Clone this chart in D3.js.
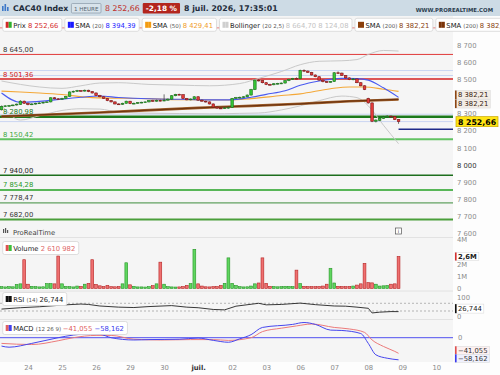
<!DOCTYPE html>
<meta charset="utf-8">
<style>
body { margin: 0; background: #fff; }
svg { display: block; font-family: "DejaVu Sans", "Noto Sans", sans-serif; }
.axis path, .axis line { display: none; }
.axis text { fill: #8c8c8c; font-size: 6.8px; font-family: "DejaVu Sans", sans-serif; }
</style>
<svg width="500" height="375"></svg>
<script src="https://cdn.jsdelivr.net/npm/d3@7"></script>
<script>
// hourly candles, 23 juin 11h -> 8 juil 17h
var opens = [8322,8342,8345,8347,8350,8353,8372,
  8360,8352,8356,8360,8362,8366,8368,8392,8386,
  8384,8388,8400,8426,8430,8434,8431,8436,8428,
  8420,8405,8398,8388,8375,8368,8356,8354,8360,
  8372,8358,8360,8364,8366,8368,8376,8372,8377,
  8374,8378,8384,8404,8412,8410,8388,8380,8385,
  8398,8378,8372,8368,8356,8338,8332,8330,8333,
  8336,8388,8393,8395,8398,8408,8440,8495,8492,
  8480,8470,8468,8474,8476,8478,8492,8500,8505,
  8503,8552,8548,8540,8525,8515,8495,8486,8484,
  8487,8538,8536,8522,8508,8498,8502,8480,8462,
  8388,8362,8255,8260,8272,8280,8285,8282,8265];
var highs = [8346,8348,8350,8352,8358,8378,8376,
  8364,8360,8363,8366,8369,8371,8395,8396,8390,
  8392,8403,8429,8434,8438,8437,8440,8439,8431,
  8423,8409,8401,8391,8379,8371,8360,8363,8375,
  8374,8364,8367,8369,8371,8379,8380,8381,8381,
  8412,8388,8408,8415,8416,8412,8391,8388,8401,
  8400,8382,8375,8371,8359,8341,8336,8337,8340,
  8391,8397,8399,8401,8411,8444,8499,8500,8495,
  8483,8474,8478,8479,8481,8495,8503,8508,8511,
  8556,8558,8551,8543,8528,8518,8498,8490,8490,
  8542,8546,8539,8525,8511,8506,8505,8483,8465,
  8392,8365,8266,8276,8286,8290,8289,8285,8268];
var lows = [8318,8338,8341,8343,8346,8350,8356,
  8348,8349,8352,8356,8358,8362,8365,8383,8380,
  8381,8385,8398,8422,8427,8428,8428,8425,8417,
  8402,8395,8385,8372,8365,8353,8350,8351,8357,
  8355,8354,8357,8360,8362,8365,8369,8369,8371,
  8372,8375,8381,8401,8406,8385,8377,8377,8382,
  8375,8369,8364,8353,8335,8328,8326,8327,8329,
  8333,8385,8389,8391,8395,8405,8437,8487,8476,
  8466,8464,8465,8470,8472,8475,8489,8496,8500,
  8501,8543,8537,8522,8512,8492,8482,8480,8481,
  8485,8532,8519,8505,8495,8494,8477,8459,8437,
  8358,8250,8248,8256,8268,8276,8276,8262,8240];
var closes = [8342,8345,8347,8350,8355,8372,8360,
  8352,8356,8360,8362,8366,8368,8392,8386,8384,
  8388,8400,8426,8430,8434,8431,8436,8428,8420,
  8405,8398,8388,8375,8368,8356,8354,8360,8372,
  8358,8360,8364,8366,8368,8376,8372,8377,8374,
  8378,8384,8404,8412,8410,8388,8380,8385,8398,
  8378,8372,8368,8356,8338,8332,8330,8333,8336,
  8388,8393,8395,8398,8408,8440,8495,8492,8480,
  8470,8468,8474,8476,8478,8492,8500,8505,8503,
  8552,8548,8540,8525,8515,8495,8486,8484,8487,
  8538,8536,8522,8508,8498,8502,8480,8462,8440,
  8362,8255,8262,8272,8280,8285,8282,8265,8252.66];
// volume in thousands
var volumes = [150,130,150,140,330,380,2350,
  350,180,150,130,140,400,400,380,2650,
  380,170,150,130,200,170,350,420,2350,
  330,220,160,250,150,140,160,380,2100,
  300,180,130,130,120,150,230,380,2150,
  350,150,130,120,130,160,250,400,3200,
  380,200,140,130,150,160,250,420,2500,
  420,250,150,130,140,200,380,450,2500,
  420,180,160,140,150,180,170,160,1500,
  400,180,160,150,150,170,200,350,1650,
  450,180,160,150,170,200,280,380,2050,
  480,460,350,200,220,250,350,380,2610.982];

var dayLabels = ["24","25","26","29","30","juil.","02","03","06","07","08","09","10"];
var dayStarts = [7,16,25,34,43,52,61,70,79,88,97,106,115];

// indicators: [candle index, value]
var sma20 = [[0,8420],[5,8365],[10,8371],[16,8384],[21,8395],[26,8402],[31,8394],[39,8386],[47,8383],[55,8380],[60,8380],[66,8395],[70,8412],[75,8433],[79,8465],[84,8490],[90,8505],[94,8504],[97,8495],[101,8450],[105,8394.39]];
var sma50 = [[0,8431],[5,8426],[10,8420],[16,8411],[24,8393],[39,8387],[47,8381],[60,8379],[66,8387],[74,8405],[79,8415],[87,8445],[92,8455],[96,8455],[101,8442],[105,8429.41]];
var sma200 = [[0,8283],[26,8306],[52,8333],[66,8345],[79,8357],[92,8372],[105,8382.21]];
var bollUp = [[0,8490],[5,8470],[10,8455],[16,8447],[21,8462],[26,8478],[31,8480],[39,8470],[47,8466],[55,8462],[63,8475],[68,8505],[74,8545],[79,8585],[84,8605],[90,8608],[94,8615],[97,8645],[101,8668],[105,8664.70]];
var bollLow = [[0,8350],[5,8262],[10,8287],[16,8318],[21,8328],[26,8326],[31,8308],[39,8302],[47,8300],[55,8298],[63,8301],[68,8303],[74,8321],[79,8345],[84,8375],[90,8402],[94,8393],[97,8345],[101,8232],[105,8124.08]];
var rsi = [[0,40],[5,47],[10,52],[17,62],[21,66],[23,64],[26,56],[31,50],[35,48],[39,53],[45,58],[49,50],[52,47],[56,38],[59,36],[62,55],[66,65],[68,70],[70,62],[74,64],[79,71],[83,63],[88,56],[91,55],[94,50],[97,44],[98,20],[100,24],[103,27],[105,26.744]];
var macd = [[0,-22],[2,-25],[8,-15],[15,0],[19,7],[23,10],[26,9],[29,0],[35,-6],[39,-5],[47,-4],[52,-1],[56,-7],[60,-12],[63,-3],[66,8],[69,27],[77,35],[80,40],[83,35],[87,20],[90,19],[95,11],[97,-15],[99,-45],[102,-54],[105,-58.162]];
var signal = [[0,-15],[8,-18],[15,-8],[19,0],[25,6],[29,6],[35,-4],[42,-6],[50,-5],[56,-5],[60,-7],[66,0],[69,16],[74,25],[78,31],[82,36],[88,27],[92,23],[96,14],[98,-6],[101,-23],[104,-36],[105,-41.055]];

// horizontal levels
var levels = [8645, 8501.36, 8280.98, 8150.42, 7940, 7854.28, 7778.47, 7682];
var levelStyle = [
  {c: "#e03a3a", w: 1, t: "#333"},
  {c: "#d42020", w: 1.5, t: "#d42020"},
  {c: "#1c7a1c", w: 2.5, t: "#1c7a1c"},
  {c: "#62c262", w: 2, t: "#3fa83f"},
  {c: "#1d6e1d", w: 1.5, t: "#222"},
  {c: "#22a022", w: 1.5, t: "#2a9a2a"},
  {c: "#3c8c3c", w: 1, t: "#333"},
  {c: "#4a9e3a", w: 2, t: "#333"}
];
var lightLevels = [8551, 8522, 8296, 8253];
var topLevel = 8800;
var rayLevel = 8209;

var priceTicks = [8700,8600,8500,8400,8300,8200,8100,8000,7900,7800,7700,7600];
var volTicks = [0,1000,2000,4000];
var volTickLabels = ["0","1M","2M","4M"];

var fr = d3.formatLocale({decimal: ",", thousands: " ", grouping: [3], currency: ["", ""]});
var fmt2 = fr.format(",.2f"), fmt0 = fr.format(",.0f"), fmt3 = fr.format(",.3f");

var plotR = 453;
var svg = d3.select("svg");

var x = d3.scaleLinear().domain([-0.4, 119.4]).range([0, plotR]);
var yP = d3.scaleLinear().domain([7600, 8700]).range([233.5, 45]);
var yV = d3.scaleLinear().domain([0, 4000]).range([288.5, 239.5]);
var yR = d3.scaleLinear().domain([0, 100]).range([316.8, 297.5]);
var yM = d3.scaleLinear().domain([-60, 40]).range([360.5, 322.5]);

// backgrounds
svg.append("rect").attr("width", 500).attr("height", 375).attr("fill", "#fdfdfd");
svg.append("rect").attr("x", 0).attr("y", 16).attr("width", plotR).attr("height", 346).attr("fill", "#f5f5f5");
svg.append("rect").attr("width", 500).attr("height", 16).attr("fill", "#cddbe5");
[237.5, 291, 319.5].forEach(function(yy) {
  svg.append("line").attr("x1", 0).attr("x2", plotR).attr("y1", yy).attr("y2", yy)
    .attr("stroke", "#e2e2e2").attr("stroke-width", 1);
});

svg.append("clipPath").attr("id", "clipP")
  .append("rect").attr("x", 0).attr("y", 16).attr("width", plotR).attr("height", 222);
var gP = svg.append("g").attr("clip-path", "url(#clipP)");

// light levels
gP.selectAll(".light").data(lightLevels).enter().append("line")
  .attr("x1", 0).attr("x2", plotR)
  .attr("y1", function(d) { return yP(d); }).attr("y2", function(d) { return yP(d); })
  .attr("stroke", "#cad6f2").attr("stroke-width", 1);

svg.append("line").attr("x1", 0).attr("x2", plotR).attr("y1", yP(topLevel)).attr("y2", yP(topLevel))
  .attr("stroke", "#e88080").attr("stroke-width", 1);

gP.selectAll(".lvl").data(levels).enter().append("line")
  .attr("x1", 0).attr("x2", plotR)
  .attr("y1", function(d) { return yP(d); }).attr("y2", function(d) { return yP(d); })
  .attr("stroke", function(d, i) { return levelStyle[i].c; })
  .attr("stroke-width", function(d, i) { return levelStyle[i].w; });

gP.append("line").attr("x1", x(105)).attr("x2", plotR)
  .attr("y1", yP(rayLevel)).attr("y2", yP(rayLevel))
  .attr("stroke", "#1f2a8a").attr("stroke-width", 1.5);

// indicator lines
var lineP = d3.line().x(function(d) { return x(d[0]); }).y(function(d) { return yP(d[1]); }).curve(d3.curveMonotoneX);
gP.append("path").attr("d", lineP(bollUp)).attr("fill", "none").attr("stroke", "#c9c9c9").attr("stroke-width", 1);
gP.append("path").attr("d", lineP(bollLow)).attr("fill", "none").attr("stroke", "#c9c9c9").attr("stroke-width", 1);
gP.append("path").attr("d", lineP(sma200)).attr("fill", "none").attr("stroke", "#a0602a").attr("stroke-width", 2.6);
gP.append("path").attr("d", lineP(sma200)).attr("fill", "none").attr("stroke", "#6e3410").attr("stroke-width", 1.2);
gP.append("path").attr("d", lineP(sma50)).attr("fill", "none").attr("stroke", "#f4a838").attr("stroke-width", 1.1);
gP.append("path").attr("d", lineP(sma20)).attr("fill", "none").attr("stroke", "#4a5af0").attr("stroke-width", 1.1);

// candles
var candles = closes.map(function(c, i) {
  return {i: i, o: opens[i], h: highs[i], l: lows[i], c: c, v: volumes[i]};
});
var bw = 2.6;
var cg = gP.selectAll(".candle").data(candles).enter().append("g");
cg.append("line")
  .attr("x1", function(d) { return x(d.i); }).attr("x2", function(d) { return x(d.i); })
  .attr("y1", function(d) { return yP(d.h); }).attr("y2", function(d) { return yP(d.l); })
  .attr("stroke", "#333").attr("stroke-width", 0.7);
cg.append("rect")
  .attr("x", function(d) { return x(d.i) - bw / 2; })
  .attr("width", bw)
  .attr("y", function(d) { return yP(Math.max(d.o, d.c)); })
  .attr("height", function(d) { return Math.max(0.8, Math.abs(yP(d.o) - yP(d.c))); })
  .attr("fill", function(d) { return d.c >= d.o ? "#34c434" : "#e43a3a"; })
  .attr("stroke", function(d) { return d.c >= d.o ? "#1d6e1d" : "#7e1616"; })
  .attr("stroke-width", 0.6);

// level labels
svg.selectAll(".lvlTxt").data(levels).enter().append("text")
  .attr("x", 3).attr("y", function(d) { return yP(d) - 2.5; })
  .attr("fill", function(d, i) { return levelStyle[i].t; })
  .style("font-size", "6.8px")
  .text(function(d) { return fmt2(d); });

// volume
var vg = svg.append("g");
vg.selectAll("rect").data(candles).enter().append("rect")
  .attr("x", function(d) { return x(d.i) - 1.4; })
  .attr("width", 2.8)
  .attr("y", function(d) { return yV(d.v); })
  .attr("height", function(d) { return yV(0) - yV(d.v); })
  .attr("fill", function(d) { return d.c >= d.o ? "#5fd65f" : "#ef7070"; })
  .attr("stroke", function(d) { return d.c >= d.o ? "#279427" : "#b52424"; })
  .attr("stroke-width", 0.6);

// rsi
[70, 30].forEach(function(lv) {
  svg.append("line").attr("x1", 0).attr("x2", plotR).attr("y1", yR(lv)).attr("y2", yR(lv))
    .attr("stroke", "#9a9a9a").attr("stroke-width", 0.7).attr("stroke-dasharray", "2,2");
});
var lineR = d3.line().x(function(d) { return x(d[0]); }).y(function(d) { return yR(d[1]); });
svg.append("path").attr("d", lineR(rsi)).attr("fill", "none").attr("stroke", "#222").attr("stroke-width", 0.9);

// macd
svg.append("line").attr("x1", 0).attr("x2", plotR).attr("y1", yM(0)).attr("y2", yM(0))
  .attr("stroke", "#5050f0").attr("stroke-width", 1);
var lineM = d3.line().x(function(d) { return x(d[0]); }).y(function(d) { return yM(d[1]); }).curve(d3.curveMonotoneX);
svg.append("path").attr("d", lineM(signal)).attr("fill", "none").attr("stroke", "#ec7a7a").attr("stroke-width", 1);
svg.append("path").attr("d", lineM(macd)).attr("fill", "none").attr("stroke", "#4646ee").attr("stroke-width", 1);

// axes
var ax = svg.append("g").attr("class", "axis").attr("transform", "translate(" + plotR + ",0)")
  .call(d3.axisRight(yP).tickValues(priceTicks).tickSize(0).tickPadding(4).tickFormat(fmt0));
ax.selectAll("text").filter(function(d) { return d === 8000; }).style("fill", "#333");
svg.append("g").attr("class", "axis").attr("transform", "translate(" + plotR + ",0)")
  .call(d3.axisRight(yV).tickValues(volTicks).tickSize(0).tickPadding(4)
    .tickFormat(function(d, i) { return volTickLabels[i]; }));
svg.append("g").attr("class", "axis").attr("transform", "translate(" + plotR + ",0)")
  .call(d3.axisRight(yR).tickValues([0, 50, 100]).tickSize(0).tickPadding(4));
svg.append("g").attr("class", "axis").attr("transform", "translate(" + plotR + ",0)")
  .call(d3.axisRight(yM).tickValues([0]).tickSize(0).tickPadding(5));
var xa = svg.append("g").attr("class", "axis").attr("transform", "translate(0,362)")
  .call(d3.axisBottom(x).tickValues(dayStarts).tickSize(0).tickPadding(3)
    .tickFormat(function(d, i) { return dayLabels[i]; }));
xa.selectAll("text").filter(function(d, i) { return dayLabels[i] === "juil."; })
  .style("fill", "#333").style("font-weight", "bold");

// legend boxes
function legend(x0, y0, icon, parts) {
  var g = svg.append("g").attr("transform", "translate(" + x0 + "," + y0 + ")");
  var r = g.append("rect").attr("height", 13).attr("rx", 2)
    .attr("fill", "#fff").attr("stroke", "#d6d6d6").attr("stroke-width", 0.8);
  icon(g);
  var t = g.append("text").attr("x", 10.5).attr("y", 9.3).style("font-size", "6.8px");
  parts.forEach(function(p) {
    t.append("tspan").text(p[0]).attr("fill", p[1]).style("font-size", p[2] || null);
  });
  var w = t.node().getComputedTextLength() + 14;
  r.attr("width", w);
  return x0 + w + 3;
}
function sq(c1, c2) {
  return function(g) {
    g.append("rect").attr("x", 3).attr("y", 3.5).attr("width", 3).attr("height", 6).attr("fill", c1);
    g.append("rect").attr("x", 6).attr("y", 3.5).attr("width", 3).attr("height", 6).attr("fill", c2);
  };
}
var lx = 2.7;
lx = legend(lx, 18.3, sq("#d42a2a", "#2fb02f"), [["Prix ", "#222"], [fmt2(closes[closes.length - 1]), "#d42a2a"]]);
lx = legend(lx, 18.3, sq("#1a1aff", "#1a1aff"), [["SMA ", "#222"], ["(20) ", "#555", "5.5px"], [fmt2(sma20[sma20.length - 1][1]), "#2a2aff"]]);
lx = legend(lx, 18.3, sq("#f39c12", "#f39c12"), [["SMA ", "#222"], ["(50) ", "#555", "5.5px"], [fmt2(sma50[sma50.length - 1][1]), "#f0a030"]]);
lx = legend(lx, 18.3, sq("#cfcfcf", "#cfcfcf"), [["Bollinger ", "#222"], ["(20 2,5) ", "#555", "5.5px"], [fmt2(bollUp[bollUp.length - 1][1]) + "  " + fmt2(bollLow[bollLow.length - 1][1]), "#c4c4c4"]]);
lx = legend(lx, 18.3, sq("#8b3f0a", "#8b3f0a"), [["SMA ", "#222"], ["(200) ", "#555", "5.5px"], [fmt2(sma200[sma200.length - 1][1]), "#8b4513"]]);
lx = legend(lx, 18.3, sq("#7a3308", "#7a3308"), [["SMA ", "#222"], ["(200) ", "#555", "5.5px"], [fmt2(sma200[sma200.length - 1][1]), "#8b4513"]]);

legend(2.7, 241.5, sq("#e05050", "#3cc03c"), [["Volume ", "#222"], [fmt0(volumes[volumes.length - 1] * 1000), "#e06a6a"]]);
legend(2.7, 292.5, sq("#111", "#111"), [["RSI ", "#222"], ["(14) ", "#555", "5.5px"], [fmt3(rsi[rsi.length - 1][1]), "#222"]]);
legend(2.7, 321.5, sq("#e06060", "#4040ee"), [["MACD ", "#222"], ["(12 26 9) ", "#555", "5.5px"], [fmt3(signal[signal.length - 1][1]), "#e06060"], [" ", "#222"], [fmt3(macd[macd.length - 1][1]), "#4040ee"]]);

// right value tags
function tag(yc, h, txt, bg, bar, col, bold, fs) {
  var g = svg.append("g").attr("transform", "translate(455," + (yc - h / 2) + ")");
  var t = g.append("text").attr("x", 3).attr("y", h / 2 + 2.4).text(txt)
    .attr("fill", col).style("font-size", fs || "6.8px").style("font-weight", bold ? "bold" : null);
  var w = t.node().getComputedTextLength() + 5;
  g.insert("rect", "text").attr("width", w).attr("height", h).attr("fill", bg)
    .attr("stroke", bar === "#ffe414" ? "#c9a800" : "#dcdcdc").attr("stroke-width", 0.6);
  g.insert("rect", "text").attr("width", 1.6).attr("height", h).attr("fill", bar);
}
var s200 = sma200[sma200.length - 1][1];
tag(yP(s200) - 4.6, 8.6, fmt2(s200), "#f3ece5", "#8b4513", "#3a2410");
tag(yP(s200) + 4.3, 8.6, fmt2(s200), "#f3ece5", "#8b4513", "#3a2410");
var lastVal = closes[closes.length - 1];
(function() {
  var g = svg.append("g").attr("transform", "translate(456," + (yP(lastVal) - 5) + ")");
  g.append("rect").attr("width", 42).attr("height", 10).attr("fill", "#ffe414").attr("stroke", "#c9a800").attr("stroke-width", 0.7);
  g.append("text").attr("x", 21).attr("y", 8).attr("text-anchor", "middle").text(fmt2(lastVal))
    .attr("fill", "#000").style("font-size", "7.8px").style("font-weight", "bold");
})();
tag(yV(volumes[volumes.length - 1]), 8, fr.format(".1f")(volumes[volumes.length - 1] / 1000) + "M", "#fff", "#d43030", "#222", true);
tag(yR(rsi[rsi.length - 1][1]) - 3, 9, fmt3(rsi[rsi.length - 1][1]), "#fff", "#111", "#222");
tag(yM(signal[signal.length - 1][1]) - 3, 8, fmt3(signal[signal.length - 1][1]), "#fdf0f0", "#e05050", "#333");
tag(yM(macd[macd.length - 1][1]) - 1.5, 8, fmt3(macd[macd.length - 1][1]), "#eff0fd", "#3a3aee", "#333");

// header
var hg = svg.append("g");
[[2, 6, 5], [4.5, 4, 7], [7, 7, 4]].forEach(function(b) {
  hg.append("rect").attr("x", b[0]).attr("y", b[1]).attr("width", 1.6).attr("height", b[2]).attr("fill", "#3d78c8");
});
var hx = 13;
var ht = hg.append("text").attr("x", hx).attr("y", 11).style("font-size", "7.8px").style("font-weight", "bold")
  .attr("fill", "#1e2c3a").text("CAC40 Index");
hx += ht.node().getComputedTextLength() + 3;
var bt = hg.append("text").attr("x", hx + 2.5).attr("y", 10.5).style("font-size", "5.6px").attr("fill", "#566573").text("1 HEURE");
var bwd = bt.node().getComputedTextLength() + 5;
hg.insert("rect", "text").attr("x", hx).attr("y", 3.5).attr("width", bwd).attr("height", 9.5).attr("rx", 1)
  .attr("fill", "#d8e3eb").attr("stroke", "#8a9aa8").attr("stroke-width", 0.7);
hx += bwd + 4;
var pt = hg.append("text").attr("x", hx).attr("y", 11).style("font-size", "7.8px").attr("fill", "#c0302a").text(fmt2(lastVal));
hx += pt.node().getComputedTextLength() + 3;
var ct = hg.append("text").attr("x", hx + 3).attr("y", 11).style("font-size", "7.4px").style("font-weight", "bold")
  .attr("fill", "#fff").text("-2,18 %");
var cwd = ct.node().getComputedTextLength() + 6;
hg.insert("rect", "text").attr("x", hx).attr("y", 3).attr("width", cwd).attr("height", 10.5).attr("rx", 1).attr("fill", "#b3261e");
hx += cwd + 4;
hg.append("text").attr("x", hx).attr("y", 11).style("font-size", "7.8px").style("font-weight", "bold")
  .attr("fill", "#1e2c3a").text("8 juil. 2026, 17:35:01");
hg.append("text").attr("x", 493).attr("y", 11.5).attr("text-anchor", "end").style("font-size", "5.4px")
  .style("font-weight", "bold").attr("fill", "#2c3e50").text("WWW.PROREALTIME.COM");

// watermark + info icon
[[3, 229, 4], [5, 228, 5], [7, 230, 3]].forEach(function(b) {
  svg.append("rect").attr("x", b[0]).attr("y", b[1]).attr("width", 1.2).attr("height", b[2]).attr("fill", "#555");
});
svg.append("text").attr("x", 13).attr("y", 234.5).style("font-size", "6.8px").attr("fill", "#444").text("ProRealTime");
svg.append("rect").attr("x", 395.5).attr("y", 228).attr("width", 6).attr("height", 6)
  .attr("fill", "#fff").attr("stroke", "#555").attr("stroke-width", 0.7);
svg.append("text").attr("x", 398.5).attr("y", 233).attr("text-anchor", "middle").style("font-size", "5px").attr("fill", "#333").text("i");
</script>
